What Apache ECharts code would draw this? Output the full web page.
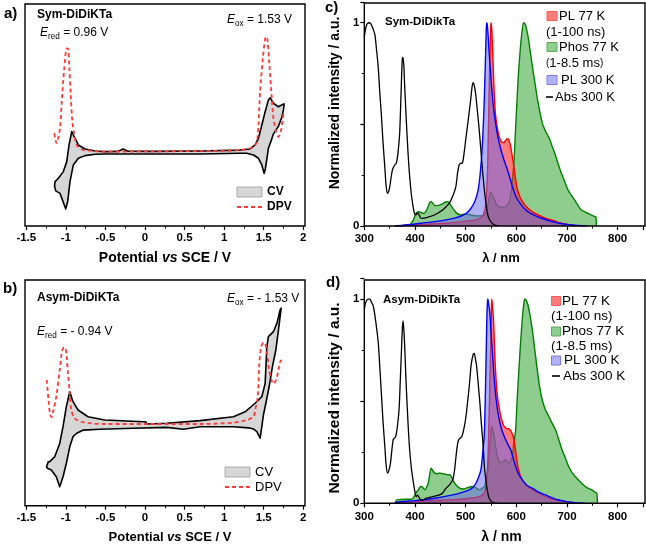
<!DOCTYPE html>
<html>
<head>
<meta charset="utf-8">
<script src="https://cdn.jsdelivr.net/npm/echarts@6/dist/echarts.min.js"></script>
<style>html,body{margin:0;padding:0;background:#fff}#c{width:646px;height:546px}</style>
</head>
<body>
<div id="c"></div>
<script>
// ---------- data ----------
// Panel a (Sym-DiDiKTa) : [potential V, current a.u.]
const cvSym = [[-1.143,18.0],[-1.137,20.0],[-1.095,21.5],[-1.032,24.5],[-0.989,29.0],[-0.960,36.5],[-0.926,42.5],[-0.884,39.5],[-0.843,36.5],[-0.758,34.7],[-0.631,33.8],[-0.505,33.5],[-0.341,33.6],[-0.278,34.7],[-0.214,33.7],[0.064,33.6],[0.696,33.8],[1.201,34.2],[1.327,34.7],[1.391,36.5],[1.433,39.5],[1.476,45.5],[1.518,51.5],[1.559,56.8],[1.581,57.8],[1.623,55.3],[1.686,53.7],[1.741,54.8],[1.758,55.0],
  [1.749,52.3],[1.729,49.0],[1.686,45.0],[1.623,41.5],[1.590,38.0],[1.559,35.0],[1.539,30.0],[1.518,25.2],[1.505,23.7],[1.476,27.5],[1.433,30.5],[1.370,32.0],[1.286,32.8],[1.201,32.8],[0.696,32.4],[0.190,32.4],[-0.505,32.4],[-0.631,32.3],[-0.758,31.7],[-0.843,30.5],[-0.906,27.5],[-0.948,20.0],[-0.977,11.0],[-1.002,7.7],[-1.020,9.5],[-1.074,14.7],[-1.128,15.8],[-1.143,18.0]];
const dpvSym = [[-1.146,41.8],[-1.130,38.5],[-1.116,37.3],[-1.095,40.0],[-1.074,44.0],[-1.052,56.0],[-1.020,71.0],[-0.989,80.0],[-0.969,79.7],[-0.956,71.0],[-0.939,59.0],[-0.918,47.0],[-0.893,41.0],[-0.863,36.5],[-0.779,34.2],[-0.700,34.0],[-0.547,33.5],[0.064,33.6],[0.696,33.8],[1.201,34.2],[1.370,35.7],[1.413,38.0],[1.433,45.5],[1.454,60.5],[1.489,75.5],[1.518,84.5],[1.530,85.3],[1.547,83.8],[1.572,72.5],[1.602,57.5],[1.623,48.5],[1.657,42.5],[1.686,40.2],[1.716,42.5],[1.741,48.5],[1.749,50.8]];
// Panel b (Asym-DiDiKTa)
const cvAsym = [[-1.244,17.1],[-1.224,19.4],[-1.204,19.5],[-1.141,21.7],[-1.078,27.6],[-1.036,35.0],[-0.994,43.9],[-0.951,50.5],[-0.910,46.1],[-0.846,42.4],[-0.720,39.4],[-0.509,38.0],[-0.021,37.2],[0.013,37.1],[0.020,36.2],[0.275,36.5],[0.696,37.7],[1.117,39.4],[1.265,41.6],[1.391,45.4],[1.476,48.3],[1.518,54.2],[1.539,70.4],[1.559,74.9],[1.623,77.1],[1.666,80.8],[1.707,86.7],[1.720,87.5],
  [1.686,77.8],[1.653,69.0],[1.610,61.6],[1.568,52.7],[1.527,45.4],[1.496,40.2],[1.476,35.0],[1.454,29.9],[1.413,32.8],[1.370,34.0],[1.307,34.5],[1.117,35.0],[0.696,35.0],[0.484,33.9],[0.275,34.7],[-0.147,34.3],[-0.568,33.9],[-0.779,33.5],[-0.863,32.1],[-0.910,30.6],[-0.951,26.1],[-0.994,18.8],[-1.036,12.8],[-1.078,8.4],[-1.121,12.8],[-1.184,15.8],[-1.234,16.6],[-1.244,17.1]];
const dpvAsym = [[-1.242,55.7],[-1.219,46.8],[-1.200,40.6],[-1.181,39.2],[-1.156,42.4],[-1.121,48.3],[-1.078,60.1],[-1.049,68.1],[-1.023,70.2],[-1.004,69.7],[-0.992,66.8],[-0.973,58.7],[-0.951,49.8],[-0.931,42.4],[-0.888,38.7],[-0.805,37.2],[-0.678,36.5],[-0.509,36.2],[0.064,36.2],[0.696,36.2],[1.117,36.8],[1.286,38.0],[1.370,39.4],[1.391,42.4],[1.425,48.3],[1.442,61.6],[1.467,70.4],[1.499,72.2],[1.518,72.0],[1.540,68.0],[1.565,61.0],[1.595,56.0],[1.624,54.0],[1.655,55.5],[1.685,60.0],[1.710,64.0],[1.729,64.6]];
// Panel c (Sym-DiDikTa) : [wavelength nm, normalized intensity]
const absSym = [[300,0.93],[303,0.975],[306,0.995],[310,1.0],[314,0.99],[318,0.965],[321,0.94],[324,0.87],[327.4,0.784],[330.5,0.66],[333.9,0.538],[337,0.41],[340.4,0.292],[343,0.2],[345.6,0.161],[348,0.17],[350.2,0.193],[355.4,0.275],[360,0.30],[363.2,0.308],[366.5,0.36],[369.8,0.456],[372.5,0.65],[375,0.825],[376.3,0.83],[378,0.79],[379.5,0.70],[382.5,0.54],[386,0.374],[389,0.26],[392.6,0.161],[396,0.1],[399,0.062],[402,0.055],[405,0.065],[408,0.055],[411,0.04],[415.4,0.038],[425.2,0.043],[438.2,0.054],[454.5,0.079],[467.5,0.111],[475,0.15],[480.6,0.193],[484,0.26],[487.1,0.30],[490,0.308],[493.6,0.31],[497,0.36],[500.1,0.423],[505,0.52],[509.9,0.62],[513,0.69],[515.1,0.705],[517.5,0.685],[519.7,0.652],[523,0.57],[526.2,0.489],[529.5,0.39],[532.7,0.292],[536,0.2],[539.2,0.128],[542.5,0.07],[545.8,0.038],[552.3,0.013],[560,0.003],[565.3,0]];
const pl300Sym = [[360,0],[400,0.01],[450,0.025],[480,0.04],[500,0.06],[510,0.085],[518,0.12],[524,0.17],[528,0.24],[532,0.36],[535,0.5],[537.5,0.68],[539.5,0.86],[541,0.98],[542,1.0],[543.5,0.97],[546,0.87],[549,0.76],[552,0.66],[556,0.56],[562,0.46],[568,0.39],[575,0.33],[582,0.28],[588,0.23],[594,0.18],[600,0.14],[608,0.11],[618,0.08],[630,0.06],[650,0.038],[680,0.016],[710,0.005],[740,0]];
const pl77Sym = [[360,0],[400,0.005],[450,0.012],[480,0.018],[505,0.025],[520,0.03],[532,0.045],[538,0.08],[541,0.15],[543.5,0.3],[545.5,0.55],[547.5,0.8],[549,0.95],[550,1.0],[551.5,0.97],[553,0.88],[555.6,0.70],[558.5,0.56],[562,0.49],[566,0.44],[570.6,0.415],[575,0.41],[578.5,0.42],[582,0.43],[585,0.425],[588,0.40],[591,0.36],[594.7,0.30],[598,0.24],[601.2,0.19],[606,0.15],[611,0.125],[618,0.1],[624,0.085],[635,0.065],[643.6,0.054],[656,0.04],[669.6,0.03],[683,0.018],[695.7,0.01],[710,0.004],[722,0]];
const phosSym = [[389,0],[392,0.012],[396,0.025],[400,0.05],[403,0.065],[408,0.07],[413,0.065],[418,0.062],[422,0.075],[426,0.095],[429,0.115],[432,0.12],[435,0.112],[440,0.1],[448,0.103],[455,0.11],[461,0.118],[465,0.12],[468,0.113],[471,0.1],[477,0.079],[483,0.062],[490,0.054],[500,0.059],[510,0.055],[520,0.05],[530,0.05],[538,0.055],[542,0.08],[545.8,0.13],[549,0.165],[551,0.16],[555.6,0.136],[560,0.11],[565,0.095],[572,0.092],[579,0.095],[585,0.11],[589,0.15],[592,0.22],[595,0.3],[598,0.45],[601,0.6],[604,0.74],[607.7,0.866],[611,0.95],[614.5,1.0],[618,0.99],[621,0.96],[624,0.92],[627,0.866],[632,0.78],[637,0.70],[642,0.62],[647,0.554],[652,0.5],[657,0.47],[662,0.445],[666.4,0.423],[671,0.39],[676,0.357],[682,0.31],[689,0.259],[696,0.215],[702,0.177],[709,0.15],[715,0.128],[722,0.1],[728,0.079],[735,0.07],[741,0.062],[748,0.055],[755,0.046],[757,0.044],[758,0]];
// Panel d (Asym-DiDikTa)
const absAsym = [[300,0.95],[303,0.985],[307,1.0],[311,1.0],[314,0.985],[317.6,0.967],[322,0.9],[327.5,0.787],[331,0.65],[334,0.525],[337,0.4],[340.5,0.279],[343,0.19],[345.8,0.148],[348.5,0.16],[351.6,0.197],[356.9,0.311],[360,0.32],[362.1,0.328],[365,0.37],[368.6,0.459],[371,0.6],[373.2,0.738],[375,0.85],[376.5,0.893],[378,0.85],[379.7,0.77],[382,0.62],[384.3,0.492],[387,0.36],[389.5,0.262],[393,0.17],[396.1,0.115],[399,0.07],[402.6,0.033],[405,0.04],[407.8,0.03],[411,0.018],[415.7,0.016],[422.2,0.025],[435.3,0.033],[448.4,0.041],[455,0.052],[461.4,0.074],[468,0.09],[474.5,0.115],[478,0.16],[481,0.23],[484,0.29],[486.3,0.311],[490,0.32],[492.8,0.328],[497,0.37],[500.7,0.426],[504,0.5],[507.2,0.574],[511,0.68],[515,0.73],[517,0.734],[519,0.71],[521.6,0.672],[525,0.58],[528.1,0.492],[531,0.39],[534.6,0.279],[537,0.18],[539.9,0.115],[543,0.06],[546.4,0.025],[552.9,0.005],[566,0]];
const pl300Asym = [[360,0],[363.4,0.005],[400,0.013],[440,0.025],[474.5,0.041],[495,0.055],[507.2,0.066],[515,0.08],[520.3,0.098],[525,0.125],[530.1,0.164],[533.5,0.24],[536.6,0.328],[538.5,0.48],[539.9,0.656],[541,0.8],[541.8,0.90],[543,0.98],[543.8,1.0],[545.5,0.975],[547.7,0.934],[550,0.84],[552.9,0.738],[556,0.62],[559.5,0.525],[564,0.44],[569.3,0.377],[574,0.34],[579.1,0.311],[584,0.285],[588.9,0.262],[594,0.22],[598.7,0.18],[605,0.14],[611.8,0.115],[620,0.09],[631.4,0.074],[644,0.055],[657.5,0.041],[670,0.028],[683.7,0.016],[700,0.008],[716.3,0.003],[736,0]];
const pl77Asym = [[360,0],[400,0.008],[450,0.015],[490,0.02],[507.2,0.025],[526.8,0.033],[536.6,0.049],[540,0.08],[543.1,0.164],[545.5,0.35],[547.7,0.574],[549.5,0.8],[550.8,0.95],[551.6,1.0],[553,0.96],[554.9,0.90],[556.5,0.8],[558.2,0.689],[560.5,0.59],[562.7,0.525],[566,0.47],[569.3,0.426],[575.8,0.377],[582.4,0.365],[585,0.365],[588.9,0.355],[592,0.34],[595.4,0.311],[598.5,0.26],[601.9,0.197],[606,0.15],[611.8,0.115],[620,0.09],[631.4,0.066],[644,0.05],[657.5,0.033],[673,0.02],[690.2,0.011],[705,0.005],[722.9,0]];
const phosAsym = [[362,0],[363.4,0.016],[370,0.018],[383,0.02],[390,0.02],[396.1,0.025],[400,0.04],[403,0.055],[406.6,0.066],[410,0.08],[413.2,0.082],[416,0.075],[419.7,0.066],[423,0.08],[426.2,0.098],[429,0.14],[432,0.172],[435,0.16],[439.2,0.148],[444,0.145],[449,0.148],[454,0.145],[458.8,0.144],[462,0.14],[465.4,0.139],[468,0.14],[471.9,0.131],[475,0.115],[478.4,0.098],[483,0.085],[488.2,0.074],[495,0.07],[501.3,0.074],[508,0.08],[514.4,0.082],[520,0.075],[527.5,0.066],[533,0.075],[537.3,0.082],[540.5,0.12],[543.8,0.164],[546,0.23],[548.4,0.295],[550,0.35],[551.6,0.377],[553.5,0.36],[556.2,0.328],[559,0.28],[562.7,0.23],[566,0.205],[569.3,0.197],[574,0.205],[579.1,0.213],[582,0.205],[585.6,0.197],[589,0.21],[592.2,0.23],[595,0.29],[598.7,0.361],[601.5,0.5],[605.2,0.656],[608.5,0.79],[611.8,0.90],[614.5,0.97],[617,1.0],[620,0.99],[623.5,0.967],[627,0.92],[631.4,0.852],[636,0.76],[641.2,0.656],[646,0.57],[651,0.508],[657,0.46],[664,0.426],[670,0.395],[677.1,0.361],[684,0.31],[690.2,0.262],[697,0.22],[703.3,0.18],[710,0.15],[716.3,0.131],[726,0.105],[736,0.082],[743,0.072],[749,0.066],[755,0.055],[758.8,0.049],[760,0]];
// tick labels / texts
const cvTicks = ['-1.5','-1','-0.5','0','0.5','1','1.5','2'];
const specYLabels = {0:'0', 1:'1'};

// ---------- chart ----------
const FONT = '"Liberation Sans", Arial, Helvetica, sans-serif';
const chart = echarts.init(document.getElementById('c'), null, {renderer:'canvas'});

const grids = [
  {left:26.3, top:4, width:277, height:222},
  {left:26.3, top:280, width:277, height:225.7},
  {left:364.3, top:2.4, width:281.3, height:223.6},
  {left:364.3, top:278.6, width:281.3, height:224.7}
];
const boxes = [[25,4,280,222],[25,280,280,225.7],[364.3,3,280.7,223],[364.3,280,280.7,223.3]];

function cvX(i, margin){
  return {gridIndex:i, type:'value', min:-1.5, max:2, interval:0.5,
    axisLine:{show:false}, splitLine:{show:false},
    axisTick:{show:true, length:4, inside:false, lineStyle:{color:'#000', width:1.2}},
    minorTick:{show:true, splitNumber:2, length:2.5, lineStyle:{color:'#000', width:1}},
    axisLabel:{margin:margin, color:'#000', fontFamily:FONT, fontWeight:'bold', fontSize:11.5,
      formatter:(v)=>{const k=Math.round((v+1.5)/0.5); return cvTicks[k]!==undefined?cvTicks[k]:'';}}};
}
function cvY(i){
  return {gridIndex:i, type:'value', min:0, max:100, show:false};
}
function spX(i, margin){
  return {gridIndex:i, type:'value', min:300, max:850, interval:100,
    axisLine:{show:false}, splitLine:{show:false},
    axisTick:{show:true, length:4, inside:false, lineStyle:{color:'#000', width:1.2}},
    minorTick:{show:true, splitNumber:2, length:2.5, lineStyle:{color:'#000', width:1}},
    axisLabel:{margin:margin, color:'#000', fontFamily:FONT, fontWeight:'bold', fontSize:11.5,
      formatter:(v)=> (v<=800 ? String(v) : '')}};
}
function spY(i){
  return {gridIndex:i, type:'value', min:0, max:1.1, interval:0.5,
    axisLine:{show:false}, splitLine:{show:false},
    axisTick:{show:true, length:4, inside:false, lineStyle:{color:'#000', width:1.2}},
    minorTick:{show:true, splitNumber:2, length:2.5, lineStyle:{color:'#000', width:1}},
    axisLabel:{margin:5, color:'#000', fontFamily:FONT, fontWeight:'bold', fontSize:11.5,
      formatter:(v)=> (specYLabels[v]!==undefined ? specYLabels[v] : '')}};
}

function cvPoly(data, i){
  return {type:'custom', xAxisIndex:i, yAxisIndex:i, data:data, silent:true, z:2,
    renderItem:function(params, api){
      if (params.dataIndex !== 0) return null;
      const pts = data.map(p => api.coord(p));
      return {type:'polygon', shape:{points:pts},
        style:{fill:'#d6d6d6', stroke:'#000', lineWidth:1.6, lineJoin:'round'}};
    }};
}
function dpv(data, i){
  return {type:'line', xAxisIndex:i, yAxisIndex:i, data:data, showSymbol:false, smooth:0.3, silent:true, z:3,
    lineStyle:{color:'#ff3a3a', width:1.8, type:[4,3]}};
}
function spec(data, i, line, fill, z, w){
  const s = {type:'line', xAxisIndex:i, yAxisIndex:i, data:data, showSymbol:false, smooth:0.3, silent:true, z:z,
    lineStyle:{color:line, width:w||1.4}};
  if (fill) s.areaStyle = {color:fill, origin:'start', opacity:1};
  return s;
}

const RED_F='rgba(250,30,30,0.58)', GRN_F='rgba(40,160,40,0.52)', BLU_F='rgba(105,105,235,0.52)';

function T(x,y,text,opt){
  opt = opt||{};
  return {type:'text', x:x, y:y, z:100, rotation:opt.rot||0, silent:true,
    style:{text:text, fill:'#000', fontFamily:FONT, fontSize:opt.size||12, fontWeight:opt.bold?'bold':'normal',
      fontStyle:opt.italic?'italic':'normal',
      align:opt.align||'left', verticalAlign:'middle', rich:opt.rich}};
}
function eLabel(x,y,sub,rest,size){
  return T(x,y,'{e|E}{s|'+sub+'}{n|'+rest+'}',{rich:{
    e:{fontFamily:FONT, fontStyle:'italic', fontSize:size, lineHeight:16},
    s:{fontFamily:FONT, fontSize:size*0.68, lineHeight:16, padding:[7,0,0,0]},
    n:{fontFamily:FONT, fontSize:size, lineHeight:16}}});
}
function rect(x,y,w,h,fill,stroke,lw){
  return {type:'rect', z:100, silent:true, shape:{x:x,y:y,width:w,height:h}, style:{fill:fill, stroke:stroke, lineWidth:lw||1}};
}
function seg(x1,y1,x2,y2,color,w,dash){
  return {type:'line', z:100, silent:true, shape:{x1:x1,y1:y1,x2:x2,y2:y2}, style:{stroke:color, lineWidth:w, lineDash:dash||null}};
}

const graphics = [];
boxes.forEach(b => graphics.push(rect(b[0],b[1],b[2],b[3],'none','#000',1.4)));
// panel letters
graphics.push(T(4,14,'a)',{bold:true,size:15}));
graphics.push(T(3,289,'b)',{bold:true,size:15}));
graphics.push(T(325,8,'c)',{bold:true,size:15}));
graphics.push(T(326,283,'d)',{bold:true,size:15}));
// panel a texts
graphics.push(T(37,15,'Sym-DiDiKTa',{bold:true,size:12}));
graphics.push(eLabel(40,33,'red',' = 0.96 V',12));
graphics.push(eLabel(227,20,'ox',' = 1.53 V',12));
graphics.push(rect(237,187,25,10,'#d6d6d6','#aaaaaa',1));
graphics.push(T(267,192,'CV',{bold:true,size:12}));
graphics.push(seg(237,207,262,207,'#ff3a3a',1.8,[4,3]));
graphics.push(T(267,207,'DPV',{bold:true,size:12}));
graphics.push(T(165,258,'{b|Potential }{i|vs}{b| SCE / V}',{align:'center',rich:{
  b:{fontFamily:FONT,fontWeight:'bold',fontSize:14}, i:{fontFamily:FONT,fontWeight:'bold',fontStyle:'italic',fontSize:14}}}));
// panel b texts
graphics.push(T(37,298,'Asym-DiDiKTa',{bold:true,size:12}));
graphics.push(eLabel(227,299,'ox',' = - 1.53 V',12));
graphics.push(eLabel(37,332,'red',' = - 0.94 V',12));
graphics.push(rect(225,467,25,10,'#d6d6d6','#aaaaaa',1));
graphics.push(T(255,472,'CV',{size:13}));
graphics.push(seg(225,487,250,487,'#ff3a3a',1.8,[4,3]));
graphics.push(T(255,487,'DPV',{size:13}));
graphics.push(T(170,537,'{b|Potential }{i|vs}{b| SCE / V}',{align:'center',rich:{
  b:{fontFamily:FONT,fontWeight:'bold',fontSize:13}, i:{fontFamily:FONT,fontWeight:'bold',fontStyle:'italic',fontSize:13}}}));
// panel c texts
graphics.push(T(385,22,'Sym-DiDikTa',{bold:true,size:11.5}));
graphics.push(T(335,103,'Normalized intensity / a.u.',{bold:true,size:14,align:'center',rot:Math.PI/2}));
graphics.push(T(501,258,'λ / nm',{bold:true,size:13,align:'center'}));
graphics.push(rect(547,11.5,10,9,RED_F,'#ff5a5a',1));
graphics.push(T(559,16,'PL 77 K',{size:13}));
graphics.push(T(546,32,'(1-100 ns)',{size:13}));
graphics.push(rect(547,42.5,10,9,GRN_F,'#5aaa5a',1));
graphics.push(T(559,47,'Phos 77 K',{size:13}));
graphics.push(T(546,63,'{p|(}1-8.5 ms{p|)}',{size:13,rich:{p:{fontFamily:FONT,fontSize:10}}}));
graphics.push(rect(547,75.5,10,9,BLU_F,'#7a7ae0',1));
graphics.push(T(561,80,'PL 300 K',{size:13}));
graphics.push(seg(546,97,553,97,'#000',1.6));
graphics.push(T(555,97,'Abs 300 K',{size:13}));
// panel d texts
graphics.push(T(383,300,'Asym-DiDikTa',{bold:true,size:11.5}));
graphics.push(T(335,398,'Normalized intensity / a.u.',{bold:true,size:15.5,align:'center',rot:Math.PI/2}));
graphics.push(T(501.5,537,'λ / nm',{bold:true,size:14,align:'center'}));
graphics.push(rect(551.5,296.5,9,9,RED_F,'#ff5a5a',1));
graphics.push(T(562,301.5,'PL 77 K',{size:13.5}));
graphics.push(T(551,316.5,'(1-100 ns)',{size:13.5}));
graphics.push(rect(551.5,327,9,9,GRN_F,'#5aaa5a',1));
graphics.push(T(562,331.5,'Phos 77 K',{size:13.5}));
graphics.push(T(551,346,'(1-8.5 ms)',{size:13.5}));
graphics.push(rect(551.5,356,9,9,BLU_F,'#7a7ae0',1));
graphics.push(T(564,360.5,'PL 300 K',{size:13.5}));
graphics.push(seg(552,376,560,376,'#000',1.6));
graphics.push(T(563,376,'Abs 300 K',{size:13.5}));

const option = {
  animation:false,
  backgroundColor:'#fff',
  textStyle:{fontFamily:FONT},
  grid:grids,
  xAxis:[cvX(0,6), cvX(1,6.5), spX(2,7), spX(3,7.5)],
  yAxis:[cvY(0), cvY(1), spY(2), spY(3)],
  series:[
    cvPoly(cvSym,0), dpv(dpvSym,0),
    cvPoly(cvAsym,1), dpv(dpvAsym,1),
    spec(phosSym,2,'#008000',GRN_F,2), spec(pl77Sym,2,'#ff0000',RED_F,3), spec(pl300Sym,2,'#0000ff',BLU_F,4), spec(absSym,2,'#000000',null,5,1.3),
    spec(phosAsym,3,'#008000',GRN_F,2), spec(pl77Asym,3,'#ff0000',RED_F,3), spec(pl300Asym,3,'#0000ff',BLU_F,4), spec(absAsym,3,'#000000',null,5,1.3)
  ],
  graphic:graphics
};
chart.setOption(option);
</script>
</body>
</html>
